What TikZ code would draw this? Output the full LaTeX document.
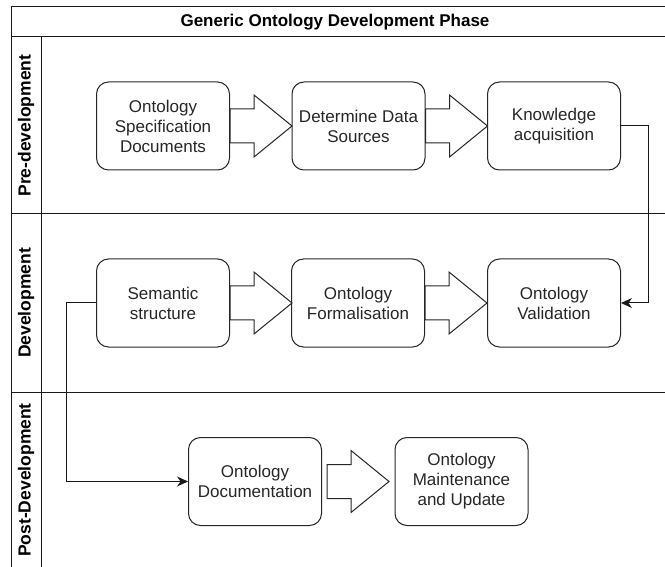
\documentclass[tikz,border=0pt]{standalone}
\usepackage{fontspec}
\setmainfont{Liberation Sans}
\usetikzlibrary{arrows.meta,calc}
\tikzset{
  box/.style={draw=black!85, line width=1pt, rounded corners=12pt, minimum width=133pt, minimum height=88pt, align=center, font=\fontsize{17}{20}\selectfont, text=black!85, inner sep=0pt},
  lane/.style={rotate=90, font=\fontsize{17.5}{20}\selectfont\bfseries},
  frame/.style={draw=black!90, line width=1pt},
  blk/.style={draw=black!85, line width=1pt, fill=white, line join=miter},
  conn/.style={draw=black!90, line width=1pt, -{Stealth[length=11pt,width=10pt]}}
}
\newcommand{\blockarrow}[1]{\draw[blk] #1 ++(0,-17) -- ++(24,0) -- ++(0,-14) -- ++(38,31) -- ++(-38,31) -- ++(0,-14) -- ++(-24,0) -- cycle;}
\begin{document}
\begin{tikzpicture}[x=1pt,y=-1pt]
\useasboundingbox (0,0) rectangle (665,567);
\clip (0,0) rectangle (665,567);
% frame
\draw[frame] (11,580) -- (11,7) -- (680,7);
\draw[frame] (11,37) -- (680,37);
\draw[frame] (41,37) -- (41,580);
\draw[frame] (11,214) -- (680,214);
\draw[frame] (11,392) -- (680,392);
\node[font=\fontsize{17}{20}\selectfont\bfseries] (title) at (335,22) {Generic Ontology Development Phase};
\node[lane] (l1) at (26,125.5) {Pre-development};
\node[lane] (l2) at (26,303) {Development};
\node[lane] (l3) at (26,480) {Post-Development};
% boxes
\node[box] (b1) at (163,126) {Ontology\\Specification\\Documents};
\node[box] (b2) at (358.5,126) {Determine Data\\Sources};
\node[box] (b3) at (554,126) {Knowledge\\acquisition};
\node[box] (c1) at (163,303) {Semantic\\structure};
\node[box] (c2) at (358,303) {Ontology\\Formalisation};
\node[box] (c3) at (554,303) {Ontology\\Validation};
\node[box] (d1) at (255,481.5) {Ontology\\Documentation};
\node[box] (d2) at (461.5,481.5) {Ontology\\Maintenance\\and Update};
% block arrows
\blockarrow{(b1.east)}
\blockarrow{(b2.east)}
\blockarrow{(c1.east)}
\blockarrow{(c2.east)}
\blockarrow{($(d1.east)+(5,0)$)}
% connectors
\coordinate (k1) at (648,0);
\coordinate (k2) at (66,0);
\draw[conn] (b3.east) -- (b3.east -| k1) -- (c3.east -| k1) -- (c3.east);
\draw[conn] (c1.west) -- (c1.west -| k2) -- (d1.west -| k2) -- (d1.west);
\end{tikzpicture}
\end{document}
